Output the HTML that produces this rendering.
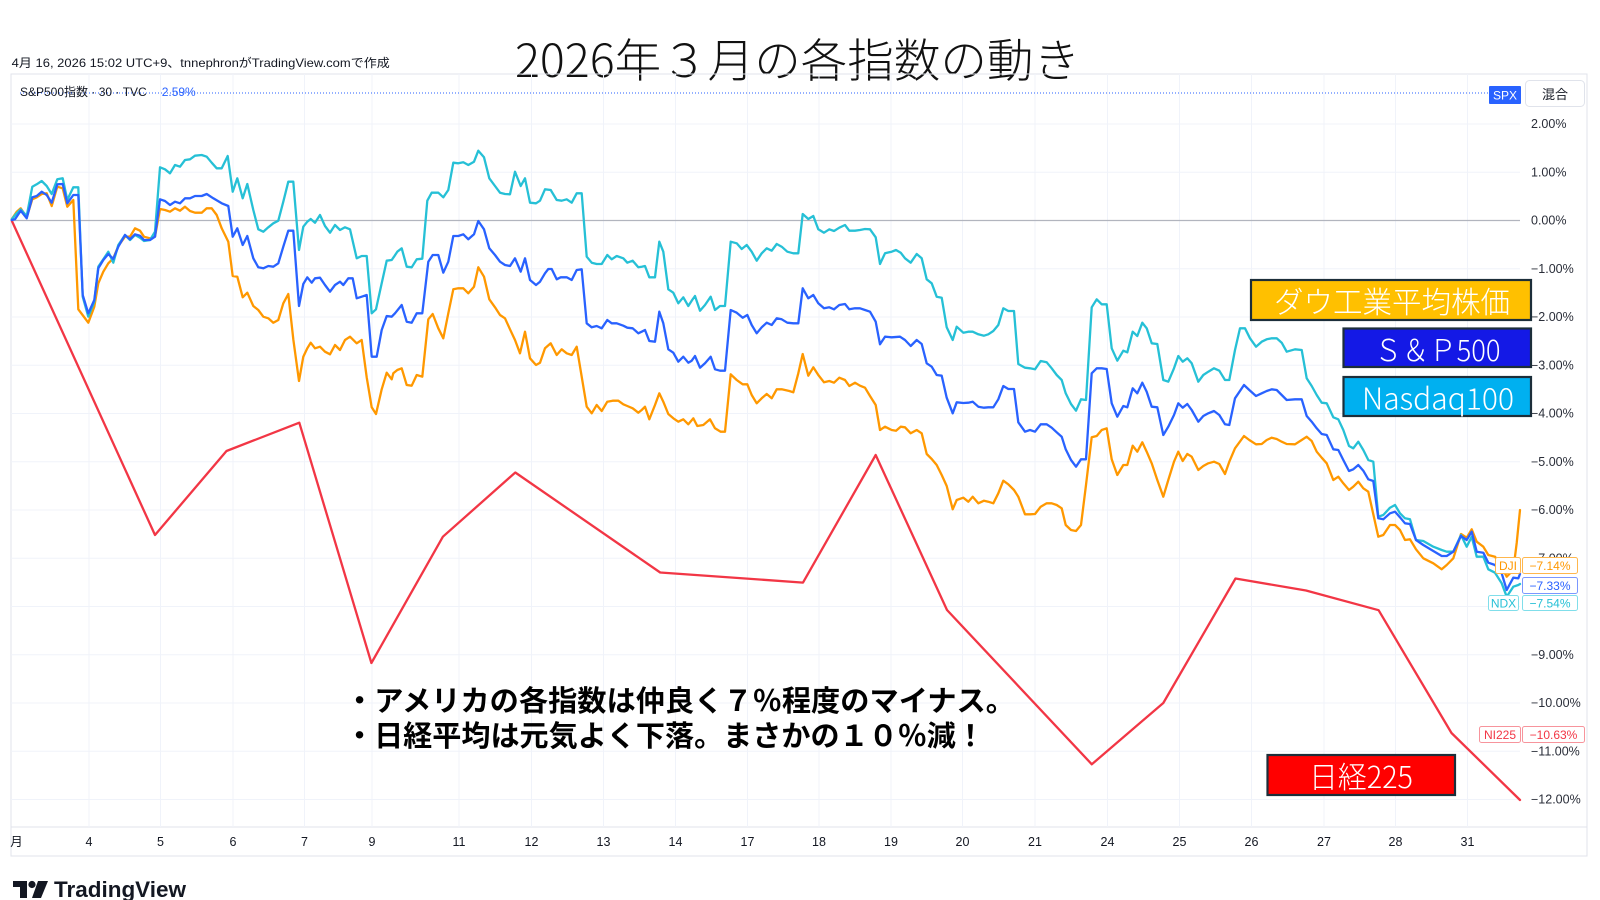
<!DOCTYPE html>
<html><head><meta charset="utf-8">
<style>
html,body{margin:0;padding:0;background:#fff;}
svg{display:block;}
.t{font-family:"Liberation Sans","Noto Sans CJK JP",sans-serif;}
.j{font-family:"Noto Sans CJK JP","Liberation Sans",sans-serif;}
</style></head>
<body>
<svg width="1600" height="900" viewBox="0 0 1600 900" xmlns="http://www.w3.org/2000/svg">
<rect width="1600" height="900" fill="#fff"/>
<!-- header -->
<text class="t" x="11.7" y="63" font-size="12" fill="#131722" dominant-baseline="central" textLength="378" lengthAdjust="spacingAndGlyphs">4月 16, 2026 15:02 UTC+9、tnnephronがTradingView.comで作成</text>
<!-- title -->
<text class="j" x="797.5" y="58" font-size="46" font-weight="300" fill="#111" text-anchor="middle" dominant-baseline="central" textLength="565" lengthAdjust="spacingAndGlyphs">2026年３月の各指数の動き</text>

<!-- chart frame -->
<rect x="11" y="74" width="1576" height="782" fill="none" stroke="#e0e3eb" stroke-width="1"/>
<line x1="11" y1="827" x2="1587" y2="827" stroke="#e0e3eb" stroke-width="1"/>
<!-- vertical grid -->
<g stroke="#f0f3fa" stroke-width="1">
<line x1="89" y1="74" x2="89" y2="827"/><line x1="160.5" y1="74" x2="160.5" y2="827"/><line x1="233" y1="74" x2="233" y2="827"/><line x1="304.5" y1="74" x2="304.5" y2="827"/><line x1="372" y1="74" x2="372" y2="827"/><line x1="459" y1="74" x2="459" y2="827"/><line x1="531.5" y1="74" x2="531.5" y2="827"/><line x1="603.5" y1="74" x2="603.5" y2="827"/><line x1="675.5" y1="74" x2="675.5" y2="827"/><line x1="747.5" y1="74" x2="747.5" y2="827"/><line x1="819" y1="74" x2="819" y2="827"/><line x1="891" y1="74" x2="891" y2="827"/><line x1="962.5" y1="74" x2="962.5" y2="827"/><line x1="1035" y1="74" x2="1035" y2="827"/><line x1="1107.5" y1="74" x2="1107.5" y2="827"/><line x1="1179.5" y1="74" x2="1179.5" y2="827"/><line x1="1251.5" y1="74" x2="1251.5" y2="827"/><line x1="1324" y1="74" x2="1324" y2="827"/><line x1="1395.5" y1="74" x2="1395.5" y2="827"/><line x1="1467.5" y1="74" x2="1467.5" y2="827"/>
</g>
<!-- horizontal grid -->
<g stroke="#f0f3fa" stroke-width="1">
<line x1="11" y1="124" x2="1520" y2="124"/><line x1="11" y1="172.3" x2="1520" y2="172.3"/>
<line x1="11" y1="268.8" x2="1520" y2="268.8"/><line x1="11" y1="317" x2="1520" y2="317"/><line x1="11" y1="365.3" x2="1520" y2="365.3"/><line x1="11" y1="413.5" x2="1520" y2="413.5"/><line x1="11" y1="461.8" x2="1520" y2="461.8"/><line x1="11" y1="510" x2="1520" y2="510"/><line x1="11" y1="558.3" x2="1520" y2="558.3"/><line x1="11" y1="606.5" x2="1520" y2="606.5"/><line x1="11" y1="654.8" x2="1520" y2="654.8"/><line x1="11" y1="703" x2="1520" y2="703"/><line x1="11" y1="751.3" x2="1520" y2="751.3"/><line x1="11" y1="799.5" x2="1520" y2="799.5"/>
</g>
<line x1="11" y1="220.5" x2="1520" y2="220.5" stroke="#b2b5be" stroke-width="1.2"/>

<!-- price labels -->
<g class="t" font-size="12.5" fill="#2a2e39" dominant-baseline="central">
<text x="1531" y="124">2.00%</text><text x="1531" y="172.3">1.00%</text><text x="1531" y="220.5">0.00%</text>
<text x="1531" y="268.8">−1.00%</text><text x="1531" y="317">−2.00%</text><text x="1531" y="365.3">−3.00%</text><text x="1531" y="413.5">−4.00%</text><text x="1531" y="461.8">−5.00%</text><text x="1531" y="510">−6.00%</text><text x="1531" y="558.3">−7.00%</text><text x="1531" y="606.5">−8.00%</text><text x="1531" y="654.8">−9.00%</text><text x="1531" y="703">−10.00%</text><text x="1531" y="751.3">−11.00%</text><text x="1531" y="799.5">−12.00%</text>
</g>

<!-- date labels -->
<g class="t" font-size="12.5" fill="#131722" text-anchor="middle" dominant-baseline="central">
<text x="16.5" y="842">月</text><text x="89" y="842">4</text><text x="160.5" y="842">5</text><text x="233" y="842">6</text><text x="304.5" y="842">7</text><text x="372" y="842">9</text><text x="459" y="842">11</text><text x="531.5" y="842">12</text><text x="603.5" y="842">13</text><text x="675.5" y="842">14</text><text x="747.5" y="842">17</text><text x="819" y="842">18</text><text x="891" y="842">19</text><text x="962.5" y="842">20</text><text x="1035" y="842">21</text><text x="1107.5" y="842">24</text><text x="1179.5" y="842">25</text><text x="1251.5" y="842">26</text><text x="1324" y="842">27</text><text x="1395.5" y="842">28</text><text x="1467.5" y="842">31</text>
</g>

<!-- legend line -->
<line x1="20" y1="93" x2="1489" y2="93" stroke="#2962ff" stroke-width="1" stroke-dasharray="1,2"/>
<rect x="18" y="85" width="178" height="16" fill="#fff" opacity="0"/>
<text class="t" x="20" y="92" font-size="12" fill="#131722" dominant-baseline="central">S&amp;P500指数 · 30 · TVC</text>
<text class="t" x="161.7" y="92" font-size="12" fill="#2962ff" dominant-baseline="central">2.59%</text>
<rect x="1489" y="86" width="32" height="18" fill="#2962ff" rx="1"/>
<text class="t" x="1505" y="95.5" font-size="12" fill="#fff" text-anchor="middle" dominant-baseline="central">SPX</text>
<rect x="1525.5" y="80.5" width="59" height="26" rx="4" fill="#fff" stroke="#e0e3eb"/>
<text class="j" x="1555" y="93.5" font-size="13" fill="#131722" text-anchor="middle" dominant-baseline="central">混合</text>

<!-- series -->
<g fill="none" stroke-width="2.3" stroke-linejoin="round" stroke-linecap="round">
<polyline stroke="#f23645" points="11.7,220.5 155,535 226.5,451 299.3,422.7 371.4,663 442.9,536.7 515.3,472.5 660.2,572.5 803,582.6 875.7,455 947,610 1091.8,764.3 1163.3,703 1235.5,578.5 1306,590.5 1378.6,610.2 1451.5,733 1520,800"/>
<polyline stroke="#ff9800" points="11.7,219.3 16.7,211.7 20.7,208.3 26.7,217.3 32.3,199.3 36.7,197.3 41.7,194 46.7,193.3 51.7,206 57.3,186.7 62.7,188.3 67.3,206.7 73.3,200 78.3,309.3 83.3,316 88.3,322.7 94.3,306.7 98.3,283.3 103.3,271.7 108.3,263.3 113.3,258.3 118.3,246 125,236.7 130,236.7 135,228.3 140,230.7 144,236.7 150,238.3 155,236.7 160,209 165,210 170,211.7 175,208.3 180,210.7 185,206.7 190,211 195,212.7 201.7,212.7 206.7,208.3 211.7,208.3 216.7,215 221.7,228.3 228.3,241.7 232.7,276 237.3,276.7 242.7,297.3 247.3,292.7 253.3,306 258.3,310 263.3,316.7 268.3,318.3 273.3,322.7 278.3,320 283.3,303.3 288.3,294 293.3,339.3 299,381 303.3,356.7 307.3,348.3 310.7,342.7 315,348.3 320,346.7 325,351.7 330,354.3 335,345 340,350 345,340 350,336.7 356.7,343.3 361.7,340 366.7,377.3 371.7,407.3 376,414 381.7,389.3 386.7,372.7 391.7,379.3 393.3,373.3 397.3,370 401.7,368.3 406.7,385 411.7,385.7 416.7,375 422.3,376.7 428.3,319.3 432.7,314 438.3,328.3 443.3,338.3 448.3,313.3 453.3,289.3 458.3,288.3 463.3,288.3 468.3,293.3 474,286.7 478.3,267.3 484,276.7 489.3,299.3 495,307.3 500,315 505,318.3 510,329.3 515,340 520,353.3 525,331.7 530,358.3 536,365 540,362.7 545,348.3 550.7,343.3 556.7,355 561.7,349.3 566.7,353.3 571.7,355 576.7,346.7 581.7,376.7 586.7,406.7 591.7,413.3 596.7,405 601.7,411 607.3,401.7 612.7,400.7 618.3,400.7 623.3,404.3 627.3,406 632.7,408.3 638.3,412.7 641.7,410 645,406.7 649.3,419.3 655,405 659.3,393.3 663.3,401.7 668.3,414 673.3,418.3 678.3,421.7 683.3,419.3 688.3,424.3 693.3,418.3 697.3,426 703.3,425 710,419.3 715,428.3 720.7,431.7 725,431.7 730.7,374.3 736.7,380 742.7,384.3 747.3,384.3 751.7,395 756.7,403.3 761.7,398.3 766.7,394 771.7,398.3 776.7,389.3 781.7,389.3 785,390 789.3,391 793.3,392.3 798.3,373.3 802.7,354 808.3,375.7 813.3,367.3 818.3,375 824,382.3 829.3,381 834,382.7 839.3,377.7 845,380 849.3,386 855,382.7 860,385.7 865,387.7 870,396 875.7,405 880,430 885,426.7 891.7,430 896,430.7 900.7,426.7 905,427.3 910.7,433.3 916.7,430 921.7,433.3 926.7,454 931.7,459 936.7,465 941.7,475 946.7,486 952.7,509.3 956.7,500 963.3,497.7 968.3,501.7 972.7,496.7 978.3,503.3 984,500.7 988.3,501.7 993.3,503.3 998.3,493.3 1003.3,480.7 1008.3,484.3 1014,490 1018.3,496.7 1025,514.3 1030,514.3 1035,514 1040.7,506.7 1046.7,503.3 1051.7,503.3 1056.7,505 1061.7,508.3 1065.7,525 1071,530 1076,531 1081,525 1086,485 1091.7,437.3 1096.7,436 1101.7,430 1106.7,428.3 1111.7,459.3 1117.3,475 1123.3,465 1127.3,465 1132.7,445.7 1137.3,451.7 1142.3,442.3 1146.7,451.7 1151.7,463.3 1157.3,480 1163.3,496.7 1168.3,480 1174,461.7 1178.3,451.7 1182.7,461 1187.3,454 1191.7,456.7 1198.3,470 1203.3,466 1208.3,463.3 1214,461.7 1219.3,464 1225,474 1229.3,461.7 1235,448.3 1244,436 1249.3,440 1256,444.3 1261.7,444 1266.7,440 1271.7,437.7 1276.7,439 1281.7,441.7 1286.7,444 1295,444.3 1301.7,440 1306.7,436.7 1311.7,441 1316.7,451.7 1321.7,457.7 1326.7,463.3 1333.3,480 1338.3,476.7 1343.3,483.3 1349,490 1353.3,486.7 1358.3,481.7 1363.3,488.3 1368.3,491.7 1373.3,514.3 1378.3,536.7 1383.3,535 1390,525 1395,525 1400,530 1405,540 1410,539.3 1416,549.3 1423.3,558.3 1433.3,563.3 1441.7,569.3 1446.7,565 1453.3,558.3 1461,534 1466.7,537.7 1471.7,529.3 1476.7,541.7 1483.3,546.7 1488.3,555 1495,556.7 1501.7,566.7 1506.7,576.7 1513.3,570 1516.7,543 1520,510"/>
<polyline stroke="#26c0d6" points="11.7,219.3 16,214 20.7,209.3 26.7,216 32.3,186.7 36.7,184.3 41.7,181 46.7,186 51.7,194 57.3,179.3 62.7,178.3 67.3,200 73.3,187.3 78.3,187.3 82.7,296.7 88.3,316.7 94.3,301.7 98.3,266.7 103.3,259.3 108.3,251.7 113.3,262.7 118.3,245 125,235 130,240 135,235 140,237.7 144,241 150,240 155,231.7 160,167.3 165,169.3 170,173.3 175,165 180,166.7 185,160 190,159.3 195,155.7 201.7,155 206.7,156.7 211.7,162.7 216.7,168.3 221.7,168.3 227.7,156 232.7,191.7 237.3,178.3 242.7,198.3 247.3,184 253.3,210 258.3,229.3 263.3,231.7 268.3,227.3 273.3,223.3 278.3,220.7 283.3,201.7 288.3,181.7 293.3,181.7 299,250 303.3,226.7 307.3,221.7 310.7,219 315,222.7 320,215 325,226 330,232.7 335,225 340,230 345,227.3 350,229.3 356.7,258.3 361.7,256 366.7,256 371.7,313.3 376,309.3 381.7,283.3 386.7,260.7 391.7,260 394,256.7 397.3,251.7 401.7,248.3 406.7,266.7 411.7,267.3 416.7,259.3 422.3,258.7 427.3,200.7 431.7,192.7 438.3,192.7 443.3,197.3 448.3,190 453.3,162.7 458.3,163.3 463.3,162.3 468.3,165 474,161.7 478.3,150.7 484,157.3 489.3,178.3 495,186 500,192.7 505,194 510,194.3 515,171.7 520.7,186 525,178.3 530,202.7 536,203.3 540,200.7 545,189.3 550.7,190 556.7,200 561.7,200.7 566.7,199.3 571.7,202.7 576.7,193.3 581.7,193.3 586.7,256.7 591.7,262.7 596.7,264 601.7,264 607.3,255 611.7,259.3 616.7,256 623.3,258.3 627.3,262.7 632.7,260.7 638.3,267.3 641.7,266.7 645,266 649.3,277.3 655,277.3 659.3,241.7 663.3,251.7 668.3,289.3 673.3,292.7 678.3,303.3 683.3,297.3 688.3,306 691.7,300.7 695,296 700,310.7 705,305 710.7,296.7 715,310 720,306 725,306 730.7,241.7 736.7,243.3 741.7,249 746.7,245 751.7,251.7 756.7,260.7 761.7,253.3 766.7,248.3 771.7,250.7 776.7,244 781.7,246.7 787.3,251.7 793.3,253.3 798.3,253.3 802.7,214 808.3,219 813.3,216 818.3,229.3 824,232.7 829.3,229.3 834,231 839.3,227.7 845,225 849.3,230.7 855,230.7 860,230 865,229 870,229.3 875.7,237.3 880,264 885,253.3 891.7,251.7 896,250 900.7,252.7 905,258.3 910.7,262.7 916.7,254 921.7,258.3 926.7,279.3 931.7,283.3 936.7,296.7 941.7,297.7 946.7,327.3 952.7,340 956.7,326.7 963.3,332.7 968.3,331.7 972.7,331.7 978.3,334.3 984,335.7 988.3,334.3 993.3,331 998.3,325 1003.3,308.3 1008.3,311 1014,311 1018.3,364 1025,367.7 1030,368.3 1035,369.3 1040.7,361 1046.7,362.3 1051.7,368.3 1056.7,375 1061.7,380 1065.7,393.3 1071,404 1076,410.7 1081,399.3 1086,400 1091.7,307.3 1096.7,299.3 1101.7,304.3 1106.7,304.3 1111.7,348.3 1117.3,360.7 1123.3,350.7 1127.3,352.3 1132.7,331.7 1137.3,336 1142.3,322.7 1146.7,328.3 1151.7,343.3 1157.3,344 1163.3,380 1168.3,381.7 1174,368.3 1178.3,356 1182.7,361.7 1187.3,358.3 1191.7,363.3 1198.3,381.7 1203.3,375 1208.3,371.7 1214,368.3 1219.3,370.7 1225,380 1229.3,380 1235,350 1240,328.3 1245,328.3 1250,338.3 1256,346.7 1261.7,341.7 1266.7,339.3 1271.7,338.3 1276.7,338.3 1281.7,342.7 1286.7,351.7 1295,349.3 1301.7,350 1306.7,378.3 1311.7,386 1316.7,395 1321.7,402.7 1326.7,403.3 1333.3,417.3 1338.3,419.3 1343.3,430 1349,446 1353.3,448.3 1358.3,441.7 1363.3,450 1368.3,460 1373.3,461.7 1378.3,516.7 1383.3,515 1390,507.7 1395,505 1400,513.3 1405,518.3 1410,519.3 1416,540 1423.3,541 1433.3,546.7 1441.7,550 1446.7,551.7 1453.3,551.7 1461,535 1466.7,546.7 1471.7,536.7 1476.7,556.7 1483.3,556.7 1488.3,569.3 1495,572.7 1501.7,583.3 1506.7,596.7 1513.3,586.7 1518.3,585 1520,584"/>
<polyline stroke="#2962ff" points="11.7,220 15,219.3 20.7,210.7 26.7,218.3 32.3,197.3 36.7,196 41.7,191.7 46.7,195 51.7,202.7 57.3,184.3 62.7,184 67.3,203.3 73.3,195 78.3,195 82.7,295 88.3,313.3 94.3,300 98.3,268.3 103.3,260 108.3,254 113.3,259 118.3,246.7 125,235 130,239.3 135,234.3 140,235.7 144,240 150,240 155,236.7 160,199.3 165,201 170,205 175,201.7 180,203.3 185,198.3 190,198.3 195,196 201.7,196 206.7,194 213.3,198.3 221.7,203.3 228.3,206 232.7,236.7 237.3,228.3 242.7,245 247.3,236 253.3,258.3 258.3,267.3 263.3,268.3 268.3,266 273.3,266.7 278.3,263.3 283.3,246.7 288.3,230.7 293.3,230.7 299,306 303.3,284 307.3,277.3 311.7,282.7 315,278.3 320,277.7 325,285 330,291.7 335,285 340,281.7 343.3,285 348.3,278.3 352.7,278.3 356.7,298.3 361.7,296.7 366.7,295 371.7,356.7 376.7,356.7 381.7,330 386.7,316 391.7,316.7 395,313.3 401.7,305 406.7,321.7 411.7,322.7 416.7,313.3 422.3,313.3 428.3,261.7 432.7,255 438.3,255 443.3,272.7 448.3,261.7 453.3,236 458.3,236 463.3,234.3 468.3,239.3 474,234.3 478.3,221 484,229.3 489.3,248.3 495,255 500,261.7 505,265 510,266 515,258.3 520.7,271.7 525,258.3 530,280 536,285 540,281.7 545,273.3 548.3,269 551.7,269 556.7,279.3 560.7,277.3 566.7,277.3 571.7,280 576.7,270 581.7,269.3 586.7,323.3 591.7,327.3 596.7,326 601.7,328.3 607.3,320 611.7,323.3 616.7,323.3 623.3,325.7 627.3,327.7 632.7,328.3 638.3,333.3 641.7,331.7 645,330 649.3,341 655,341.7 659.3,311.7 663.3,323.3 668.3,349.3 673.3,352.7 678.3,361.7 683.3,356.7 688.3,362.7 691.7,360.7 695,356 700,367.7 705,363.3 710.7,356.7 715,369.3 720,370.7 725,370.7 730.7,310 736.7,312.7 742.7,317.7 747.3,315 751.7,325 756.7,333.3 761.7,327.3 766.7,322.7 771.7,325 776.7,318.3 781.7,319.3 787.3,322.7 793.3,323.3 798.3,323.3 802.7,288.3 808.3,298.3 813.3,295 818.3,303.3 824,308.3 829.3,307.3 834,309.3 839.3,305 845,304 849.3,309.3 855,308.3 860,308.3 865,310 870,311.7 875.7,321.7 880,344.3 885,336.7 891.7,337.3 900,336.7 905,340 910.7,346 916.7,340 921.7,344 926.7,363.3 931.7,366.7 936.7,375 941.7,375.7 946.7,397.7 952.7,413.3 956.7,402.3 963.3,403 968.3,402.7 972.7,401.7 978.3,406.7 984,407.7 988.3,407.3 993.3,407.3 998.3,399.3 1003.3,386 1008.3,389 1014,389 1018.3,422.3 1025,431.7 1030,430 1035,431.7 1040.7,424.3 1046.7,424.3 1051.7,427.7 1056.7,432.3 1061.7,436.7 1065.7,449.3 1071,460 1076,466.7 1081,459.3 1086,459.3 1091.7,373.3 1096.7,368.3 1101.7,368.3 1106.7,369 1111.7,403.3 1117.3,416.7 1123.3,406 1127.3,407.3 1132.7,388.3 1137.3,393.3 1142.3,382.7 1146.7,391.7 1151.7,406.7 1157.3,407.3 1163.3,435 1168.3,426.7 1174,415 1178.3,403.3 1182.7,407.7 1187.3,404 1191.7,410 1198.3,421.7 1203.3,416 1208.3,413.3 1214,411 1219.3,415 1225,424.3 1229.3,425 1235,398.3 1244,385 1249.3,390 1256,396 1261.7,393.3 1266.7,391 1271.7,389.3 1276.7,390 1281.7,395 1286.7,400 1295,399.3 1301.7,399.3 1306.7,416 1311.7,421.7 1316.7,428.3 1321.7,434 1326.7,435 1333.3,449.3 1338.3,450 1343.3,460 1349,471 1353.3,469.3 1358.3,465 1363.3,470.7 1368.3,479.3 1373.3,481 1378.3,518.3 1383.3,519.3 1390,513.3 1395,511.7 1400,517.3 1405,523.3 1410,524 1416,540 1423.3,545 1433.3,551 1441.7,556 1446.7,556 1453.3,551.7 1461,536 1466.7,540 1471.7,531.7 1476.7,551.7 1483.3,552.7 1488.3,562.7 1495,565 1501.7,573.3 1506.7,590 1513.3,577.7 1518.3,578.3 1520,574"/>
</g>

<!-- right badges -->
<g class="t" font-size="12" dominant-baseline="central" text-anchor="middle">
<rect x="1495.5" y="557.5" width="25" height="16" rx="2" fill="#fff" stroke="#ffb74d"/>
<text x="1508" y="566" fill="#ff9800">DJI</text>
<rect x="1522.5" y="557.5" width="55" height="16" rx="2" fill="#fff" stroke="#ffb74d"/>
<text x="1550" y="566" fill="#ff9800">−7.14%</text>
<rect x="1522.5" y="577.5" width="55" height="16" rx="2" fill="#fff" stroke="#7b97ff"/>
<text x="1550" y="586" fill="#2962ff">−7.33%</text>
<rect x="1488.5" y="595.5" width="30" height="15" rx="2" fill="#fff" stroke="#80deea"/>
<text x="1503.5" y="603.5" fill="#26c0d6">NDX</text>
<rect x="1522.5" y="595.5" width="55" height="15" rx="2" fill="#fff" stroke="#80deea"/>
<text x="1550" y="603.5" fill="#26c0d6">−7.54%</text>
<rect x="1479.5" y="726.5" width="41" height="16" rx="2" fill="#fff" stroke="#f7949c"/>
<text x="1500" y="735" fill="#f23645">NI225</text>
<rect x="1522.5" y="726.5" width="62" height="16" rx="2" fill="#fff" stroke="#f7949c"/>
<text x="1553.5" y="735" fill="#f23645">−10.63%</text>
</g>

<!-- overlay legend boxes -->
<g class="j" font-size="30" font-weight="300" fill="#fff" text-anchor="middle" dominant-baseline="central">
<rect x="1251" y="280" width="280" height="40" fill="#ffc000" stroke="#1c2e3a" stroke-width="2.2"/>
<text x="1392" y="300" textLength="236" lengthAdjust="spacingAndGlyphs">ダウ工業平均株価</text>
<rect x="1343.5" y="328.5" width="187.5" height="38.5" fill="#1419e6" stroke="#1c2e3a" stroke-width="2.2"/>
<text x="1437.5" y="348" textLength="126" lengthAdjust="spacingAndGlyphs">Ｓ＆Ｐ500</text>
<rect x="1343.5" y="377" width="187.5" height="39" fill="#00b0f0" stroke="#1c2e3a" stroke-width="2.2"/>
<text x="1438" y="396.5" textLength="152" lengthAdjust="spacingAndGlyphs">Nasdaq100</text>
<rect x="1267.5" y="755" width="187.5" height="40" fill="#ff0000" stroke="#1c2e3a" stroke-width="2.2"/>
<text x="1361" y="775" textLength="104" lengthAdjust="spacingAndGlyphs">日経225</text>
</g>

<!-- annotation -->
<g class="j" font-size="29" font-weight="700" fill="#000" dominant-baseline="central">
<text x="345" y="699" textLength="670" lengthAdjust="spacingAndGlyphs">・アメリカの各指数は仲良く７％程度のマイナス。</text>
<text x="345" y="734" textLength="640" lengthAdjust="spacingAndGlyphs">・日経平均は元気よく下落。まさかの１０％減！</text>
</g>

<!-- TradingView logo -->
<g fill="#131722">
<path d="M13,881 H27 V898 H20 V887 H13 Z"/>
<circle cx="32" cy="884.5" r="3.6"/>
<path d="M38,881 H48 L41,898 H32 Z"/>
</g>
<text class="t" x="54" y="897" font-size="22" font-weight="700" fill="#131722" textLength="132" lengthAdjust="spacingAndGlyphs">TradingView</text>
</svg>
</body></html>
